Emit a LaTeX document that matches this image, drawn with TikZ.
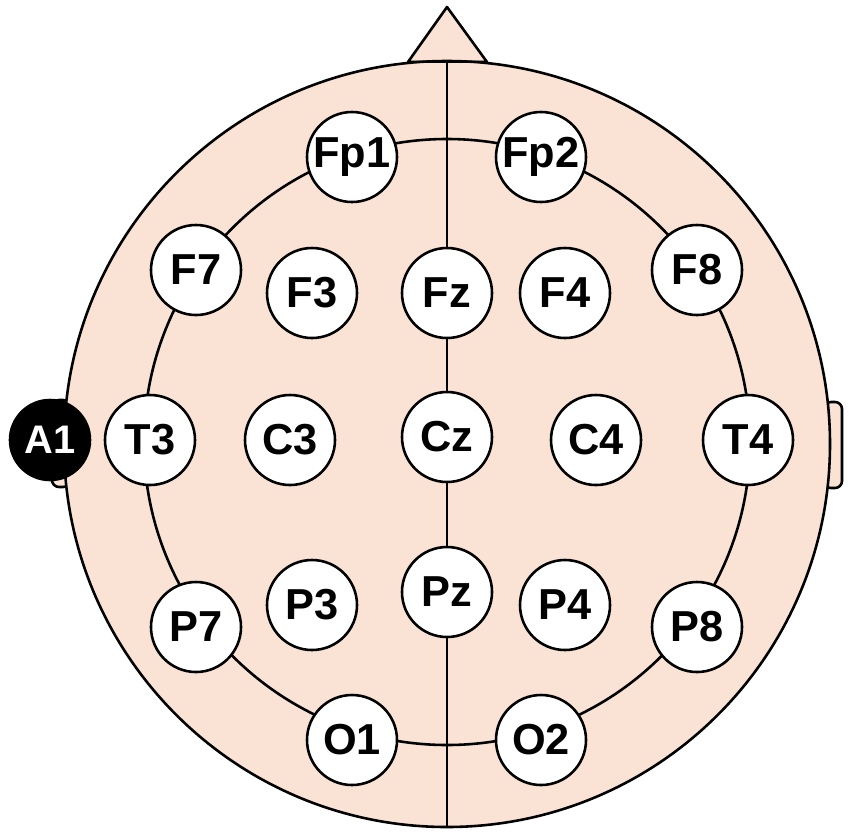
\documentclass[tikz,border=0pt]{standalone}
\usepackage{fontspec}
\setmainfont{Liberation Sans}
\definecolor{skin}{RGB}{250,226,212}
\begin{document}
\begin{tikzpicture}[x=0.03cm,y=-0.03cm,line width=2.2pt,
  elec/.style={circle,draw=black,fill=white,minimum size=2.7cm,inner sep=0pt,font=\fontsize{37}{37}\selectfont\bfseries},
  ref/.style={circle,draw=black,fill=black,text=white,minimum size=2.4cm,inner sep=0pt,font=\fontsize{34}{34}\selectfont\bfseries}]
\useasboundingbox (0,0) rectangle (851,831);
% ears
\draw[fill=skin,rounded corners=6pt] (824,402) rectangle (842,488);
\draw[fill=skin,rounded corners=6pt] (52,400) rectangle (70,487);
% nose
\draw[fill=skin,line join=round] (408,62) -- (447,7) -- (487,62) -- cycle;
% head
\draw[fill=skin] (447,444) circle (383);
\draw (408,62) -- (487,62);
\draw (447,62) -- (447,826);
\draw (447,442) circle (303);
\foreach \n/\x/\y in {Fp1/352/157,Fp2/541/157,F7/196/270,F3/312/293,Fz/447/293,F4/565/293,F8/697/270,
  T3/150/440,C3/290/440,Cz/447/437,C4/596/440,T4/748/440,P7/196/627,P3/312/605,Pz/447/592,P4/565/605,P8/697/627,O1/352/740,O2/541/740}
  \node[elec] (\n) at (\x,\y) {\n};
\node[ref] (A1) at (50,440) {A1};
\end{tikzpicture}
\end{document}
